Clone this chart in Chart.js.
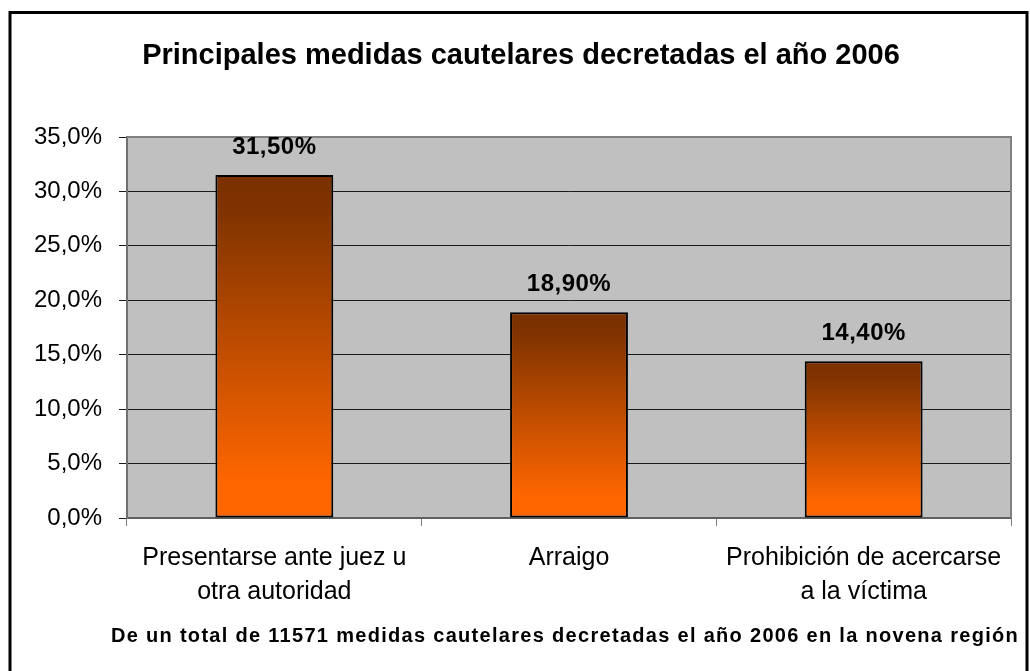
<!DOCTYPE html>
<html>
<head>
<meta charset="utf-8">
<title>Principales medidas cautelares decretadas el año 2006</title>
<script src="https://cdn.jsdelivr.net/npm/chart.js@4.4.1/dist/chart.umd.min.js"></script>
<style>
    html, body { margin: 0; padding: 0; background: #fff; overflow: hidden; }
    canvas { display: block; }
</style>
</head>
<body>
<canvas id="medidasChart" width="1030" height="671"></canvas>
<script>
const categories = [
    ['Presentarse ante juez u', 'otra autoridad'],
    'Arraigo',
    ['Prohibición de acercarse', 'a la víctima']
];
const percentValues = [31.5, 18.9, 14.4];
const yTickValues = [0, 5, 10, 15, 20, 25, 30, 35];
const chartTitle = 'Principales medidas cautelares decretadas el año 2006';
const footNote = 'De un total de 11571 medidas cautelares decretadas el año 2006 en la novena región';

const FONT = "'Liberation Sans', Arial, sans-serif";
Chart.defaults.font.family = FONT;
Chart.defaults.color = '#000';

function toComma(value, decimals) {
    return value.toFixed(decimals).replace('.', ',') + '%';
}

function barGradient(context) {
    const chart = context.chart;
    const yScale = chart.scales.y;
    if (!chart.chartArea || !yScale || context.raw === undefined) {
        return '#FF6600';
    }
    const top = yScale.getPixelForValue(context.raw);
    const bottom = yScale.getPixelForValue(0);
    const gradient = chart.ctx.createLinearGradient(0, top, 0, bottom);
    gradient.addColorStop(0, '#7A3000');
    gradient.addColorStop(0.1, '#7F3300');
    gradient.addColorStop(0.9, '#FF6600');
    gradient.addColorStop(1, '#FF6600');
    return gradient;
}

// gray plot area, white page, frame, title, footnote and value labels
const excelLook = {
    id: 'excelLook',
    beforeDraw(chart) {
        const { ctx, chartArea: a } = chart;
        ctx.save();
        ctx.fillStyle = '#fff';
        ctx.fillRect(0, 0, chart.width, chart.height);
        ctx.fillStyle = '#C0C0C0';
        ctx.fillRect(a.left, a.top, a.right - a.left, a.bottom - a.top);
        ctx.restore();
    },
    afterDraw(chart) {
        const { ctx, chartArea: a } = chart;
        ctx.save();
        // plot border, top and right
        ctx.strokeStyle = '#808080';
        ctx.lineWidth = 2;
        ctx.beginPath();
        ctx.moveTo(a.left, a.top);
        ctx.lineTo(a.right, a.top);
        ctx.lineTo(a.right, a.bottom);
        ctx.stroke();

        // value labels above the bars
        const meta = chart.getDatasetMeta(0);
        ctx.font = 'bold 24px ' + FONT;
        ctx.letterSpacing = '0.5px';
        ctx.fillStyle = '#000';
        ctx.textAlign = 'center';
        ctx.textBaseline = 'alphabetic';
        meta.data.forEach((bar, i) => {
            ctx.fillText(toComma(percentValues[i], 2), bar.x, bar.y - 21);
        });

        // outer frame
        ctx.strokeStyle = '#000';
        ctx.lineWidth = 3;
        ctx.strokeRect(10, 12.5, 1017, 700);

        ctx.font = 'bold 29px ' + FONT;
        ctx.letterSpacing = '0px';
        ctx.textAlign = 'center';
        ctx.fillText(chartTitle, 521, 64);

        ctx.font = 'bold 20px ' + FONT;
        ctx.letterSpacing = '1.3px';
        ctx.textAlign = 'left';
        ctx.fillText(footNote, 111, 642);
        ctx.letterSpacing = '0px';
        ctx.restore();
    }
};

const ctx = document.getElementById('medidasChart').getContext('2d');

new Chart(ctx, {
    type: 'bar',
    data: {
        labels: categories,
        datasets: [{
            data: percentValues,
            backgroundColor: barGradient,
            borderColor: '#000',
            borderWidth: 2,
            borderSkipped: false,
            barPercentage: 0.4,
            categoryPercentage: 1
        }]
    },
    options: {
        responsive: false,
        animation: false,
        layout: {
            padding: { top: 137, right: 19, bottom: 0, left: 0 }
        },
        scales: {
            x: {
                afterFit: function (scale) { scale.height = 153; },
                grid: {
                    offset: true,
                    drawOnChartArea: false,
                    tickLength: 8,
                    color: '#808080'
                },
                border: { color: '#606060', width: 2 },
                ticks: {
                    padding: 15,
                    maxRotation: 0,
                    autoSkip: false,
                    font: { size: 25, lineHeight: 1.36 },
                    color: '#000'
                }
            },
            y: {
                min: yTickValues[0],
                max: yTickValues[yTickValues.length - 1],
                afterFit: function (scale) { scale.width = 127; },
                afterBuildTicks: function (scale) {
                    scale.ticks = yTickValues.map(v => ({ value: v }));
                },
                grid: {
                    color: '#1a1a1a',
                    lineWidth: 1,
                    tickLength: 8
                },
                border: { color: '#707070', width: 2 },
                ticks: {
                    padding: 17,
                    font: { size: 24 },
                    color: '#000',
                    callback: function (value) {
                        return toComma(value, 1);
                    }
                }
            }
        },
        plugins: {
            legend: { display: false },
            tooltip: { enabled: false }
        }
    },
    plugins: [excelLook]
});
</script>
</body>
</html>
